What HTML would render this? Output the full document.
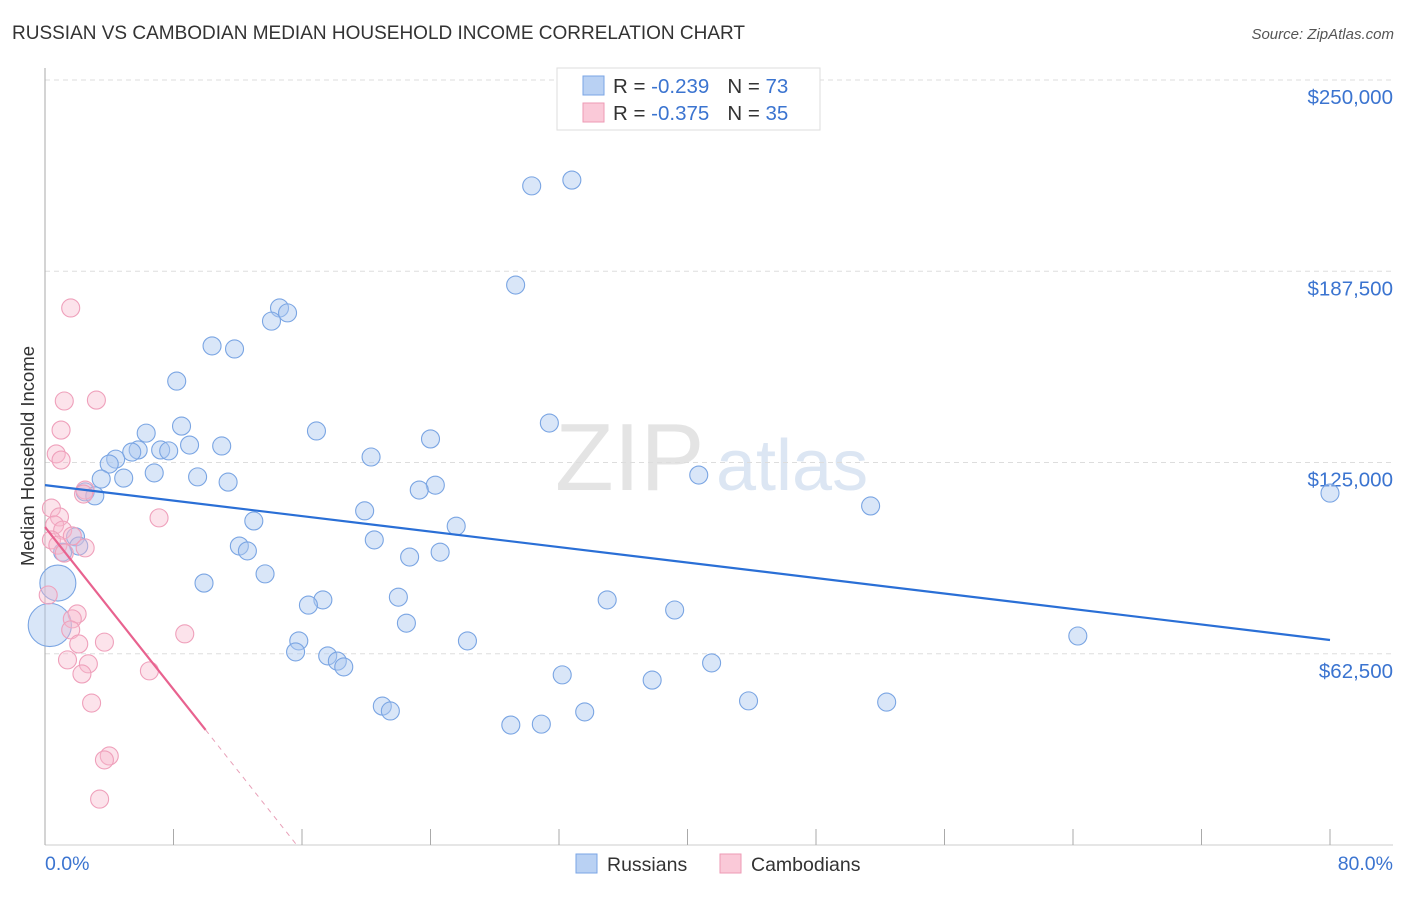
<!DOCTYPE html>
<html><head><meta charset="utf-8">
<style>
body{margin:0;background:#fff;font-family:"Liberation Sans",sans-serif;}
svg text{font-family:"Liberation Sans",sans-serif;}
</style></head>
<body>
<svg id="chart" width="1406" height="892" xmlns="http://www.w3.org/2000/svg">
<text x="12" y="39" font-size="19" fill="#333">RUSSIAN VS CAMBODIAN MEDIAN HOUSEHOLD INCOME CORRELATION CHART</text>
<text x="1394" y="39" font-size="15" fill="#555" font-style="italic" text-anchor="end">Source: ZipAtlas.com</text>
<text x="555" y="490" font-size="96" fill="#e4e4e4" font-family="Liberation Serif">ZIP</text>
<text x="716" y="490" font-size="72" fill="#dce6f3">atlas</text>
<g id="grid"></g>
<g id="axes"></g>
<g id="marks"></g>
<text transform="translate(34,456) rotate(-90)" font-size="18.5" fill="#333" text-anchor="middle">Median Household Income</text>
<text x="45" y="870" font-size="19.5" fill="#3b74d0">0.0%</text>
<text x="1393" y="870" font-size="19.5" fill="#3b74d0" text-anchor="end">80.0%</text>
<g>
<rect x="557" y="68" width="263" height="62" fill="#fff" stroke="#ddd"/>
<rect x="583" y="76" width="21" height="19" fill="#b9d1f3" stroke="#7aa5e6"/>
<rect x="583" y="103" width="21" height="19" fill="#fac9d8" stroke="#ee9ab4"/>
<text x="613" y="93" font-size="20.5" fill="#333">R = <tspan fill="#3b74d0">-0.239</tspan><tspan dx="18">N = </tspan><tspan fill="#3b74d0">73</tspan></text>
<text x="613" y="120" font-size="20.5" fill="#333">R = <tspan fill="#3b74d0">-0.375</tspan><tspan dx="18">N = </tspan><tspan fill="#3b74d0">35</tspan></text>
</g>
<g>
<rect x="576" y="854" width="21" height="19" fill="#b9d1f3" stroke="#7aa5e6"/>
<text x="607" y="871" font-size="19.5" fill="#333">Russians</text>
<rect x="720" y="854" width="21" height="19" fill="#fac9d8" stroke="#ee9ab4"/>
<text x="751" y="871" font-size="19.5" fill="#333">Cambodians</text>
</g>
</svg>
<script>
const yTicks=[62500,125000,187500,250000];
const yTickLabels=["$62,500","$125,000","$187,500","$250,000"];
const xTicks=[0,8,16,24,32,40,48,56,64,72,80];
const rusX=[30.3,32.8,29.3,14.6,15.1,14.1,10.4,11.8,8.2,31.4,8.5,16.9,6.3,24.0,9.0,11.0,5.8,7.2,7.7,5.4,20.3,4.4,4.0,6.8,9.5,3.5,4.9,11.4,40.7,24.3,23.3,2.5,3.1,80.0,51.4,19.9,13.0,25.6,1.9,20.5,12.1,12.6,2.1,1.1,22.7,24.6,13.7,0.8,9.9,22.0,17.3,16.4,35.0,39.2,22.5,0.3,64.3,15.8,26.3,15.6,17.6,18.2,18.6,41.5,32.2,37.8,43.8,52.4,21.0,21.5,33.6,29.0,30.9];
const rusY=[215.4,217.3,183.0,175.5,173.9,171.2,163.1,162.1,151.6,137.9,136.9,135.3,134.6,132.7,130.7,130.4,129.1,129.1,128.8,128.4,126.8,126.1,124.5,121.6,120.3,119.6,119.9,118.6,120.9,117.6,116.0,115.4,114.1,115.0,110.8,109.2,105.9,104.2,100.7,99.7,97.7,96.1,97.7,95.7,94.1,95.7,88.6,85.6,85.6,81.0,80.1,78.4,80.1,76.8,72.5,71.9,68.3,66.7,66.7,63.1,61.8,60.1,58.2,59.5,55.6,53.9,47.1,46.7,45.4,43.8,43.5,39.2,39.5];
const rusSize=rusX.map((v,i)=>i===47?2:(i===55?2.4:1));
const camX=[1.6,1.2,3.2,1.0,0.7,1.0,2.5,2.4,0.4,7.1,0.9,0.6,1.1,1.7,0.4,0.8,1.2,0.2,2.0,1.7,1.6,8.7,3.7,2.1,1.4,2.7,6.5,2.3,2.9,4.0,3.7,3.4,2.5];
const camY=[175.5,145.1,145.4,135.6,127.8,125.8,116.0,114.7,110.1,106.9,107.2,104.6,102.9,101.0,99.7,98.0,95.4,81.7,75.5,73.9,70.3,69.0,66.3,65.7,60.5,59.2,56.9,55.9,46.4,29.1,27.8,15.0,97.1];
const rusTrend=[117.6,67.0];
const camTrend=[103.9,37.6,10];
const NS='http://www.w3.org/2000/svg';
const X=p=>45+p/80*1285;
const Y=v=>845-v/250000*765;
const YK=k=>Y(k*1000);
function mk(t,a,parent){const e=document.createElementNS(NS,t);for(const k in a)e.setAttribute(k,a[k]);parent.appendChild(e);return e;}
const grid=document.getElementById('grid'),axes=document.getElementById('axes'),marks=document.getElementById('marks');
yTicks.forEach((t,i)=>{
 const l=mk('line',{x1:45,x2:1393,y1:Y(t),y2:Y(t),stroke:'#ddd','stroke-dasharray':'5,4'},grid);
 
 
 const tx=mk('text',{x:1393,y:Y(t)+24,'font-size':20.5,fill:'#3b74d0','text-anchor':'end'},axes);
 tx.textContent=yTickLabels[i];
 
 
});
const ax=mk('line',{x1:45,x2:45,y1:68,y2:845,stroke:'#aaa'},axes);


const bx=mk('line',{x1:45,x2:1393,y1:845,y2:845,stroke:'#ccc'},axes);


xTicks.forEach(t=>{if(X(t)>1393)return;
 const l=mk('line',{x1:X(t),x2:X(t),y1:829,y2:845,stroke:'#aaa'},axes);
 
 
});
rusX.forEach((x,i)=>{
 const c=mk('circle',{cx:X(x),cy:YK(rusY[i]),r:9*rusSize[i],fill:'rgba(170,200,240,0.45)',stroke:'#7aa5e3','stroke-width':1.1},marks);
 
 
});
camX.forEach((x,i)=>{
 const c=mk('circle',{cx:X(x),cy:YK(camY[i]),r:9,fill:'rgba(248,185,205,0.4)',stroke:'#efa0bb','stroke-width':1.1},marks);
 
 
});
const rl=mk('line',{x1:X(0),y1:YK(rusTrend[0]),x2:X(80),y2:YK(rusTrend[1]),stroke:'#2a6fd6','stroke-width':2.2},marks);


const slope=(camTrend[1]-camTrend[0])/camTrend[2];
const x0=-camTrend[0]/slope;
const cl=mk('line',{x1:X(0),y1:YK(camTrend[0]),x2:X(camTrend[2]),y2:YK(camTrend[1]),stroke:'#e8628f','stroke-width':2.2},marks);


const cd=mk('line',{x1:X(camTrend[2]),y1:YK(camTrend[1]),x2:X(x0),y2:YK(0),stroke:'#e8a0b8','stroke-width':1,'stroke-dasharray':'5,5'},marks);


</script>
</body></html>
